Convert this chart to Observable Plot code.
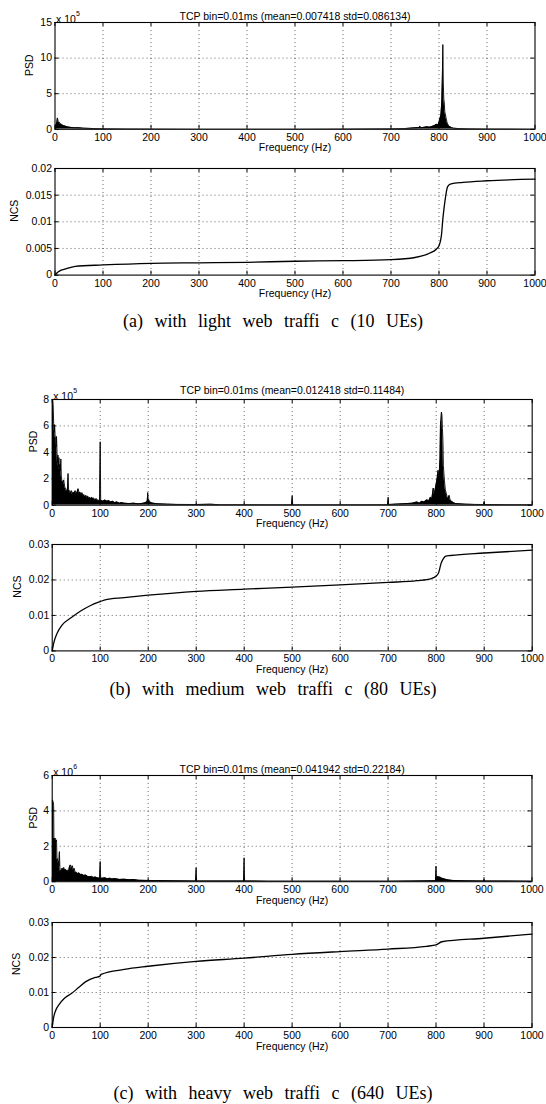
<!DOCTYPE html>
<html>
<head>
<meta charset="utf-8">
<script src="https://cdn.jsdelivr.net/npm/d3@7"></script>
<script src="https://cdn.jsdelivr.net/npm/@observablehq/plot@0.6"></script>
<style>
  html, body { margin: 0; padding: 0; background: #fff; }
  #root { position: relative; width: 546px; height: 1104px; overflow: hidden; background: #fff; }
  #root svg { position: absolute; left: 0; }
  .cap { position: absolute; left: 0; width: 546px; text-align: center; font-family: "Liberation Serif", "Times New Roman", serif; font-size: 18px; word-spacing: 7px; color: #000; line-height: 1; }
</style>
</head>
<body>
<div id="root"></div>
<script>
// ---------------- DATA ----------------
const xTicks = [0, 100, 200, 300, 400, 500, 600, 700, 800, 900, 1000];

const titles = [
  "TCP bin=0.01ms (mean=0.007418 std=0.086134)",
  "TCP bin=0.01ms (mean=0.012418 std=0.11484)",
  "TCP bin=0.01ms (mean=0.041942 std=0.22184)"
];
const captions = [
  "(a) with light web traffi c (10 UEs)",
  "(b) with medium web traffi c (80 UEs)",
  "(c) with heavy web traffi c (640 UEs)"
];
const psdExponents = ["5", "5", "6"];
const psdTicksA = [0, 5, 10, 15];
const psdTicksB = [0, 2, 4, 6, 8];
const psdTicksC = [0, 2, 4, 6];
const ncsTicksA = [0, 0.005, 0.01, 0.015, 0.02];
const ncsTicksB = [0, 0.01, 0.02, 0.03];
const ncsTicksC = [0, 0.01, 0.02, 0.03];

// PSD (a), values in units of 1e5
const psdA_f = [0,2,4,5,6,7,9,11,13,15,18,21,25,30,35,40,50,60,80,100,150,200,300,400,500,600,700,730,750,759,760,762,770,775,780,785,790,795,798,800,802,804,805,806,807,808,809,810,811,812,813,815,817,819,822,826,830,840,860,900,1000];
const psdA_v = [0.2,0.6,1.0,1.6,1.3,0.9,1.0,0.7,0.75,0.6,0.5,0.45,0.35,0.3,0.25,0.22,0.2,0.15,0.1,0.08,0.05,0.03,0.02,0.02,0.02,0.03,0.06,0.1,0.2,0.25,0.45,0.2,0.3,0.35,0.3,0.4,0.5,0.7,0.6,1.0,1.5,2.0,3.0,4.2,7.2,11.9,6.5,4.2,3.8,2.5,2.2,1.5,0.9,0.6,0.4,0.25,0.15,0.1,0.06,0.04,0.02];

// NCS (a)
const ncsA_f = [0,5,10,20,42,100,200,300,400,500,600,700,750,780,795,800,805,808,812,818,825,850,900,1000];
const ncsA_v = [0,0.0005,0.0008,0.0011,0.00165,0.0019,0.0022,0.0023,0.0024,0.0026,0.0027,0.0029,0.0033,0.0041,0.0049,0.0055,0.0074,0.0105,0.0136,0.0166,0.0171,0.0174,0.0177,0.018];

// PSD (b), values in units of 1e5
const psdB_f = [0,1,2,3,4,5,6,7,8,9,10,11,12,13,14,15,16,17,18,19,20,22,24,26,28,30,32,33,34,36,38,40,42,44,46,48,50,52,54,56,58,60,62,64,66,68,70,72,74,76,78,80,82,84,86,88,90,92,94,96,98,99,100,101,103,106,110,114,118,122,126,130,135,140,145,150,160,170,180,190,195,198,199,200,202,205,210,220,240,260,300,330,350,400,450,499,500,501,550,600,650,699,700,701,730,750,760,765,770,775,780,785,788,791,794,796,798,800,802,804,806,808,809,810,811,812,813,814,815,817,819,821,823,825,827,829,832,836,840,860,880,899,900,901,950,1000];
const psdB_v = [7.9,8.0,7.6,6.2,5.5,6.1,5.3,5.0,4.4,5.2,4.0,3.2,3.8,2.9,3.6,2.7,3.1,2.6,3.5,2.2,1.9,1.7,1.9,1.4,1.2,1.0,1.3,2.4,1.2,1.1,0.9,1.1,0.8,1.0,0.9,1.1,0.85,1.0,1.25,0.9,1.0,0.75,0.95,0.7,0.8,0.6,0.75,0.55,0.7,0.5,0.6,0.45,0.6,0.5,0.55,0.45,0.4,0.5,0.35,0.4,0.3,0.3,4.8,0.3,0.35,0.3,0.4,0.3,0.35,0.25,0.3,0.2,0.25,0.15,0.2,0.15,0.12,0.15,0.1,0.15,0.2,0.3,0.96,0.5,0.35,0.2,0.15,0.1,0.08,0.06,0.05,0.07,0.04,0.04,0.03,0.03,0.72,0.03,0.03,0.03,0.03,0.04,0.6,0.05,0.1,0.15,0.25,0.15,0.3,0.25,0.4,0.35,0.6,0.5,1.3,0.8,1.2,1.6,2.0,2.65,2.2,3.5,6.2,6.4,7.05,6.8,5.8,4.9,3.0,1.9,1.2,0.9,0.6,0.5,0.75,0.4,0.3,0.2,0.12,0.08,0.06,0.05,0.25,0.05,0.04,0.03];

// NCS (b)
const ncsB_f = [0,3,10,20,40,60,80,100,110,150,200,300,400,500,600,700,760,790,800,805,810,815,820,830,900,1000];
const ncsB_v = [0,0.0021,0.0049,0.0072,0.0094,0.0113,0.0128,0.0139,0.0144,0.015,0.0157,0.0168,0.0174,0.018,0.0186,0.0193,0.0198,0.0204,0.0211,0.022,0.0246,0.026,0.0267,0.0269,0.0276,0.0284];

// PSD (c), values in units of 1e6
const psdC_f = [0,1,2,3,3.5,5,7,8,9,10,11,12,13,14,15,16,17,18,19,20,22,24,26,28,30,32,34,36,38,40,42,44,46,48,50,53,56,59,62,66,70,74,78,82,86,90,94,98,99,100,101,105,110,115,120,125,130,140,150,160,170,180,200,250,299,300,301,350,399,400,401,450,500,600,700,750,790,799,800,801,803,806,809,812,815,818,822,826,835,860,899,900,901,1000];
const psdC_v = [4.6,4.6,4.5,4.3,2.5,2.4,2.45,2.3,2.35,1.2,1.3,1.0,1.15,0.9,1.7,0.8,0.55,0.65,0.5,0.75,0.7,0.8,0.65,0.7,0.6,0.65,0.55,0.85,0.95,0.7,0.9,0.65,0.75,0.5,0.55,0.45,0.5,0.4,0.42,0.35,0.38,0.3,0.28,0.3,0.24,0.26,0.22,0.2,0.2,1.14,0.2,0.2,0.22,0.17,0.2,0.15,0.18,0.13,0.14,0.11,0.12,0.08,0.07,0.05,0.04,0.79,0.04,0.04,0.04,1.35,0.04,0.03,0.03,0.03,0.03,0.04,0.05,0.06,0.88,0.15,0.3,0.27,0.25,0.2,0.18,0.15,0.12,0.1,0.07,0.05,0.04,0.12,0.04,0.03];

// NCS (c)
const ncsC_f = [0,3,7,15,25,40,55,70,90,99,102,150,200,300,400,500,600,700,780,800,812,900,1000];
const ncsC_v = [0,0.0029,0.0048,0.0067,0.0083,0.0097,0.0114,0.0131,0.0143,0.0146,0.0152,0.0166,0.0175,0.0189,0.0198,0.0209,0.0217,0.0224,0.0232,0.0236,0.0245,0.0255,0.0267];

// ---------------- LAYOUT ----------------
const W = 546;
const root = document.getElementById("root");
const FONT = "'Liberation Sans', Arial, Helvetica, sans-serif";

function zip(fs, vs) { return fs.map((f, i) => ({f, v: vs[i]})); }

function makeAxes({left, right, top, bottom, yDomain, yTicks, ylabel, ylabelDx, marks, title, titleDy, exponent}) {
  const mt = 30, mb = 32;
  const fh = bottom - top, fw = right - left;
  const height = fh + mt + mb;
  const inner = xTicks.slice(1, -1);
  const innerY = yTicks.slice(1, -1);
  const extra = [];
  if (title) extra.push(Plot.text([title], {frameAnchor: "top", dy: titleDy, fontSize: 10.5}));
  if (exponent) {
    extra.push(Plot.text(["x 10"], {frameAnchor: "top-left", dx: 1, dy: -7, textAnchor: "start", fontSize: 10.5}));
    extra.push(Plot.text([exponent], {frameAnchor: "top-left", dx: 21, dy: -11, textAnchor: "start", fontSize: 7}));
  }
  const svg = Plot.plot({
    width: W, height,
    marginLeft: left, marginRight: W - right, marginTop: mt, marginBottom: mb,
    style: {fontFamily: FONT, fontSize: "10.5px", background: "transparent", overflow: "visible", color: "#000"},
    x: {domain: [0, 1000]},
    y: {domain: yDomain},
    marks: [
      Plot.gridX(inner, {stroke: "#000", strokeOpacity: 0.6, strokeDasharray: "1,3"}),
      Plot.gridY(innerY, {stroke: "#000", strokeOpacity: 0.6, strokeDasharray: "1,3"}),
      ...marks,
      Plot.ruleX(xTicks, {insetBottom: fh - 4, stroke: "#000"}),
      Plot.ruleX(xTicks, {insetTop: fh - 4, stroke: "#000"}),
      Plot.ruleY(yTicks, {insetRight: fw - 4, stroke: "#000"}),
      Plot.ruleY(yTicks, {insetLeft: fw - 4, stroke: "#000"}),
      Plot.frame({stroke: "#000", strokeWidth: 1.1}),
      Plot.axisX(xTicks, {tickSize: 0, tickPadding: 4, label: null, fontSize: 10.5, tickFormat: d => String(d)}),
      Plot.axisY(yTicks, {tickSize: 0, tickPadding: 3, label: null, fontSize: 10.5, tickFormat: d => String(d)}),
      Plot.text(["Frequency (Hz)"], {frameAnchor: "bottom", dy: 22, fontSize: 10.5}),
      Plot.text([ylabel], {frameAnchor: "left", dx: ylabelDx, rotate: -90, fontSize: 10.5}),
      ...extra
    ]
  });
  svg.style.top = (top - mt) + "px";
  root.appendChild(svg);
}

function psdMarks(data) {
  return [
    Plot.areaY(data, {x: "f", y: "v", fill: "#000", curve: "linear", clip: true}),
    Plot.lineY(data, {x: "f", y: "v", stroke: "#000", strokeWidth: 0.9, curve: "linear", clip: true})
  ];
}
function ncsMarks(data) {
  return [Plot.lineY(data, {x: "f", y: "v", stroke: "#000", strokeWidth: 1.3, curve: "monotone-x"})];
}

const panels = [
  {left: 54.5, right: 534.5, psdTop: 21.5, psdBottom: 128.3, ncsTop: 167.7, ncsBottom: 274.3, capY: 321, titleDy: -10,
   psd: zip(psdA_f, psdA_v), psdDomain: [0, 15], psdTicks: psdTicksA, psdDx: -25,
   ncs: zip(ncsA_f, ncsA_v), ncsDomain: [0, 0.02], ncsTicks: ncsTicksA, ncsDx: -40.5},
  {left: 51.7, right: 531.7, psdTop: 399, psdBottom: 504.7, ncsTop: 544.3, ncsBottom: 650.7, capY: 689, titleDy: -13,
   psd: zip(psdB_f, psdB_v), psdDomain: [0, 8], psdTicks: psdTicksB, psdDx: -18.7,
   ncs: zip(ncsB_f, ncsB_v), ncsDomain: [0, 0.03], ncsTicks: ncsTicksB, ncsDx: -35},
  {left: 51.7, right: 531.5, psdTop: 774.5, psdBottom: 880.7, ncsTop: 921.7, ncsBottom: 1026.7, capY: 1093, titleDy: -10,
   psd: zip(psdC_f, psdC_v), psdDomain: [0, 6], psdTicks: psdTicksC, psdDx: -18.7,
   ncs: zip(ncsC_f, ncsC_v), ncsDomain: [0, 0.03], ncsTicks: ncsTicksC, ncsDx: -35.5}
];

panels.forEach((p, i) => {
  makeAxes({left: p.left, right: p.right, top: p.psdTop, bottom: p.psdBottom,
    yDomain: p.psdDomain, yTicks: p.psdTicks, ylabel: "PSD", ylabelDx: p.psdDx,
    marks: psdMarks(p.psd), title: titles[i], titleDy: p.titleDy, exponent: psdExponents[i]});
  makeAxes({left: p.left, right: p.right, top: p.ncsTop, bottom: p.ncsBottom,
    yDomain: p.ncsDomain, yTicks: p.ncsTicks, ylabel: "NCS", ylabelDx: p.ncsDx,
    marks: ncsMarks(p.ncs)});
  const cap = document.createElement("div");
  cap.className = "cap";
  cap.textContent = captions[i];
  cap.style.top = (p.capY - 9) + "px";
  root.appendChild(cap);
});
</script>
</body>
</html>
